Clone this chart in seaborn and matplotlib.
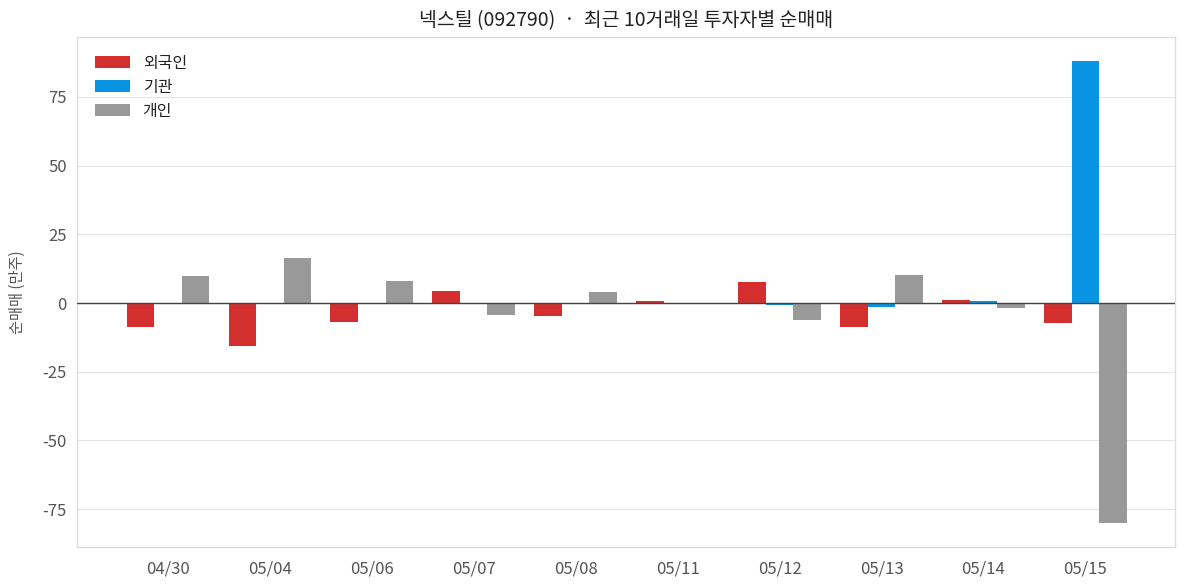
import matplotlib
matplotlib.use("Agg")
import matplotlib.pyplot as plt
import pandas as pd
import seaborn as sns

# =========================
# DATA
# =========================
dates = ["04/30", "05/04", "05/06", "05/07", "05/08", "05/11", "05/12", "05/13", "05/14", "05/15"]
foreign = [-8.6, -15.7, -6.8, 4.4, -4.7, 0.7, 7.6, -8.6, 1.1, -7.2]
institution = [-0.5, 0.0, 0.0, 0.0, 0.0, 0.0, -0.6, -1.3, 0.7, 88.1]
individual = [9.8, 16.4, 8.0, -4.4, 4.0, 0.0, -6.2, 10.2, -1.8, -80.2]

series_names = ["외국인", "기관", "개인"]
colors = ["#d32f2f", "#0993e3", "#999999"]

df = pd.DataFrame({"date": dates, "외국인": foreign, "기관": institution, "개인": individual})
long_df = df.melt(id_vars="date", var_name="investor", value_name="net")

# =========================
# STYLE
# =========================
sns.set_theme(style="white")
plt.rcParams["font.family"] = ["Noto Sans CJK KR", "DejaVu Sans"]
plt.rcParams["axes.unicode_minus"] = False

fig, ax = plt.subplots(figsize=(11.87, 5.87), dpi=100)

sns.barplot(data=long_df, x="date", y="net", hue="investor", hue_order=series_names,
            palette=colors, width=0.81, saturation=1, linewidth=0, ax=ax, zorder=3)

ax.axhline(0, color="#444444", linewidth=1.0, zorder=4)
ax.yaxis.grid(True, color="#e6e6e6", linewidth=0.8, zorder=0)
ax.set_axisbelow(True)

ax.set_xlim(-0.89, 9.88)
ax.set_ylim(-88.8, 96.8)
ax.set_yticks([-75, -50, -25, 0, 25, 50, 75])

for s in ax.spines.values():
    s.set_color("#dddddd")
    s.set_linewidth(1.0)

ax.tick_params(axis="both", colors="#555555", labelsize=12, length=4, width=0.8, direction="out")
ax.tick_params(axis="x", pad=6)
ax.tick_params(axis="both", color="#333333")

ax.set_xlabel("")
ax.set_ylabel("순매매 (만주)", fontsize=11, color="#555555", labelpad=12)
ax.set_title("넥스틸 (092790)  ·  최근 10거래일 투자자별 순매매", fontsize=14, color="#222222", pad=8)

leg = ax.legend(loc="upper left", frameon=False, fontsize=11.5, handlelength=2.2,
                handleheight=0.8, labelspacing=0.45, borderaxespad=0.7)
for t in leg.get_texts():
    t.set_color("#222222")

plt.subplots_adjust(left=0.065, right=0.99, top=0.937, bottom=0.068)
plt.savefig("out.png", dpi=100)
